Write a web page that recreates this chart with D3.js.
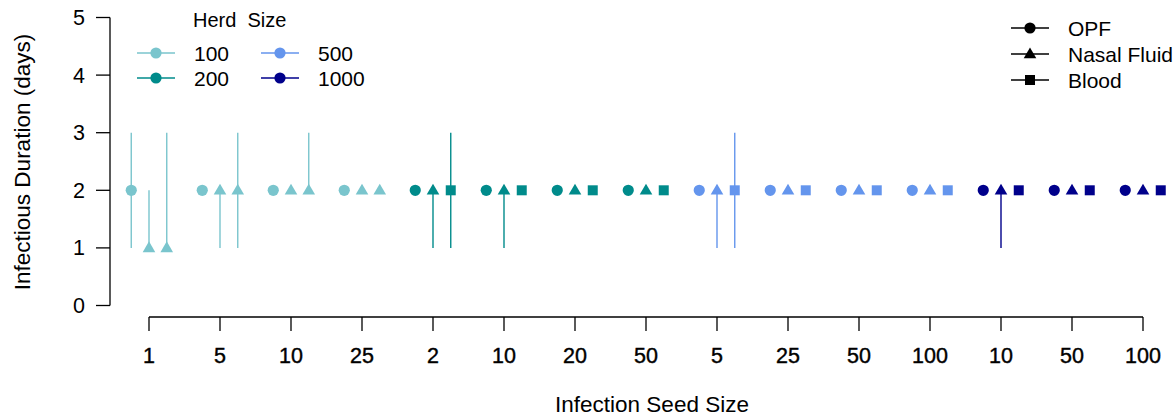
<!DOCTYPE html>
<html><head>
<meta charset="utf-8">
<script src="https://d3js.org/d3.v7.min.js"></script>
<style>
  body { margin: 0; background: #fff; }
  svg text { font-family: "Liberation Sans", Arial, sans-serif; fill: #000; }
  .axisline { stroke: #000; stroke-width: 1.3px; fill: none; }
</style>
</head>
<body>
<svg id="chart" width="1174" height="417"></svg>
<script>
// herd sizes and colours
const herds = ["100", "200", "500", "1000"];
const herdColors = ["#7AC5CD", "#008B8B", "#6495ED", "#00008B"];

// one entry per x position
const seedHerd   = [0, 0, 0, 0, 1, 1, 1, 1, 2, 2, 2, 2, 3, 3, 3];
const seedLabels = ["1", "5", "10", "25", "2", "10", "20", "50", "5", "25", "50", "100", "10", "50", "100"];

// sample types
const samples = ["OPF", "Nasal Fluid", "Blood"];

// medians and ranges (days)
const opfMed   = [2, 2, 2, 2, 2, 2, 2, 2, 2, 2, 2, 2, 2, 2, 2];
const opfLo    = [1, 2, 2, 2, 2, 2, 2, 2, 2, 2, 2, 2, 2, 2, 2];
const opfHi    = [3, 2, 2, 2, 2, 2, 2, 2, 2, 2, 2, 2, 2, 2, 2];
const nasalMed = [1, 2, 2, 2, 2, 2, 2, 2, 2, 2, 2, 2, 2, 2, 2];
const nasalLo  = [1, 1, 2, 2, 1, 1, 2, 2, 1, 2, 2, 2, 1, 2, 2];
const nasalHi  = [2, 2, 2, 2, 2, 2, 2, 2, 2, 2, 2, 2, 2, 2, 2];
const bloodMed = [1, 2, 2, 2, 2, 2, 2, 2, 2, 2, 2, 2, 2, 2, 2];
const bloodLo  = [1, 1, 2, 2, 1, 2, 2, 2, 1, 2, 2, 2, 2, 2, 2];
const bloodHi  = [3, 3, 3, 2, 3, 2, 2, 2, 3, 2, 2, 2, 2, 2, 2];

// blood marker per herd (herd 100 was plotted with triangles)
const bloodShape = ["triangle", "square", "square", "square"];

const yTicks = [0, 1, 2, 3, 4, 5];

const svg = d3.select("#chart");

const x = d3.scaleLinear().domain([0, seedLabels.length - 1]).range([149, 1143]);
const y = d3.scaleLinear().domain([0, 5]).range([305.5, 17.5]);

// build point records
let points = [];
seedLabels.forEach((lab, i) => {
  const h = seedHerd[i];
  points.push({i: i, off: -0.25, med: opfMed[i], lo: opfLo[i], hi: opfHi[i], shape: "circle", color: herdColors[h]});
  points.push({i: i, off: 0, med: nasalMed[i], lo: nasalLo[i], hi: nasalHi[i], shape: "triangle", color: herdColors[h]});
  points.push({i: i, off: 0.25, med: bloodMed[i], lo: bloodLo[i], hi: bloodHi[i], shape: bloodShape[h], color: herdColors[h]});
});

function marker(shape, cx, cy) {
  if (shape == "circle") {
    return "M" + (cx + 5.6) + "," + cy + " A5.6,5.6 0 1,1 " + (cx - 5.6) + "," + cy + " A5.6,5.6 0 1,1 " + (cx + 5.6) + "," + cy + "Z";
  }
  if (shape == "triangle") {
    return "M" + cx + "," + (cy - 6.6) + " L" + (cx + 6.3) + "," + (cy + 4.3) + " L" + (cx - 6.3) + "," + (cy + 4.3) + "Z";
  }
  return "M" + (cx - 5) + "," + (cy - 5) + " h10 v10 h-10 Z";
}

// range lines
svg.append("g").selectAll("line.range")
  .data(points.filter(d => d.hi > d.lo))
  .join("line")
  .attr("class", "range")
  .attr("x1", d => x(d.i + d.off)).attr("x2", d => x(d.i + d.off))
  .attr("y1", d => y(d.lo)).attr("y2", d => y(d.hi))
  .attr("stroke", d => d.color)
  .attr("stroke-width", 1.4);

// markers
svg.append("g").selectAll("path.pt")
  .data(points)
  .join("path")
  .attr("class", "pt")
  .attr("d", d => marker(d.shape, x(d.i + d.off), y(d.med)))
  .attr("fill", d => d.color);

// y axis
const yAxis = svg.append("g");
yAxis.append("line").attr("class", "axisline")
  .attr("x1", 110).attr("x2", 110).attr("y1", y(5)).attr("y2", y(0));
yAxis.selectAll("line.tick").data(yTicks).join("line")
  .attr("class", "axisline")
  .attr("x1", 96).attr("x2", 110)
  .attr("y1", d => y(d)).attr("y2", d => y(d));
yAxis.selectAll("text").data(yTicks).join("text")
  .attr("x", 85).attr("y", d => y(d) + 7.5)
  .attr("text-anchor", "end")
  .style("font-size", "21.5px")
  .text(d => d);

// x axis
const xAxis = svg.append("g");
xAxis.append("line").attr("class", "axisline")
  .attr("x1", x(0)).attr("x2", x(seedLabels.length - 1)).attr("y1", 317).attr("y2", 317);
xAxis.selectAll("line.tick").data(seedLabels).join("line")
  .attr("class", "axisline")
  .attr("x1", (d, i) => x(i)).attr("x2", (d, i) => x(i))
  .attr("y1", 317).attr("y2", 331);
xAxis.selectAll("text").data(seedLabels).join("text")
  .attr("x", (d, i) => x(i)).attr("y", 363)
  .attr("text-anchor", "middle")
  .style("font-size", "21.5px")
  .style("stroke", "#000").style("stroke-width", 0.4)
  .text(d => d);

// axis titles
svg.append("text")
  .attr("x", 652).attr("y", 412)
  .attr("text-anchor", "middle")
  .style("font-size", "22.5px")
  .text("Infection Seed Size");

svg.append("text")
  .attr("transform", "translate(30,162) rotate(-90)")
  .attr("text-anchor", "middle")
  .style("font-size", "22.5px")
  .text("Infectious Duration (days)");

// herd size legend
const hl = svg.append("g");
hl.append("text").attr("x", 193).attr("y", 27)
  .style("font-size", "20px")
  .style("white-space", "pre")
  .text("Herd  Size");
herds.forEach((h, k) => {
  const col = Math.floor(k / 2), row = k % 2;
  const lx = 137 + col * 124, ly = 53 + row * 25;
  hl.append("line").attr("x1", lx).attr("x2", lx + 38).attr("y1", ly).attr("y2", ly)
    .attr("stroke", herdColors[k]).attr("stroke-width", 1.4);
  hl.append("path").attr("d", marker("circle", lx + 19, ly)).attr("fill", herdColors[k]);
  hl.append("text").attr("x", lx + 57).attr("y", ly + 7.5)
    .style("font-size", "21px").text(h);
});

// sample type legend
const sl = svg.append("g");
const sampleShapes = ["circle", "triangle", "square"];
samples.forEach((s, k) => {
  const ly = 28 + k * 26;
  sl.append("line").attr("x1", 1011).attr("x2", 1049).attr("y1", ly).attr("y2", ly)
    .attr("stroke", "#000").attr("stroke-width", 1.4);
  sl.append("path").attr("d", marker(sampleShapes[k], 1030, ly)).attr("fill", "#000");
  sl.append("text").attr("x", 1068).attr("y", ly + 7.5)
    .style("font-size", "21px").text(s);
});
</script>
</body>
</html>
